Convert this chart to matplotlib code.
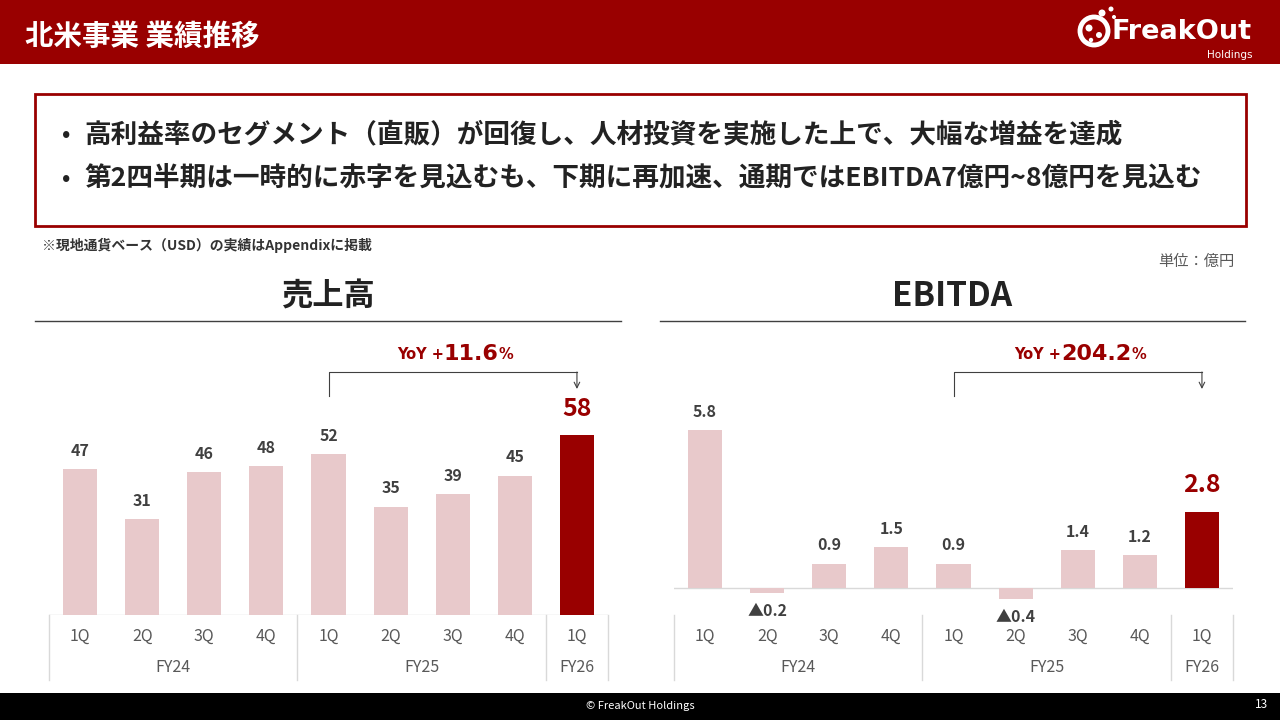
import matplotlib
matplotlib.use('Agg')
import matplotlib.pyplot as plt
from matplotlib.patches import Rectangle, Circle

plt.rcParams['font.family'] = ['Noto Sans CJK JP', 'DejaVu Sans']

# data (unit: 億円)
quarters = ['1Q', '2Q', '3Q', '4Q', '1Q', '2Q', '3Q', '4Q', '1Q']
fiscal_years = ['FY24', 'FY25', 'FY26']
fy_first = [0, 4, 8]
fy_last = [3, 7, 8]
sales = [47, 31, 46, 48, 52, 35, 39, 45, 58]
ebitda = [5.8, -0.2, 0.9, 1.5, 0.9, -0.4, 1.4, 1.2, 2.8]
sales_yoy = '11.6'
ebitda_yoy = '204.2'

title = '北米事業 業績推移'
bullets = ['高利益率のセグメント（直販）が回復し、人材投資を実施した上で、大幅な増益を達成',
           '第2四半期は一時的に赤字を見込むも、下期に再加速、通期ではEBITDA7億円~8億円を見込む']
note = '※現地通貨ベース（USD）の実績はAppendixに掲載'
unit = '単位：億円'

RED = '#990000'
PINK = '#E8C9CB'
DARK = '#404040'
GRAY = '#595959'
LINE = '#D9D9D9'

W, H = 1280, 720
fig = plt.figure(figsize=(12.8, 7.2), dpi=100)

# background axes in pixel coordinates
bg = fig.add_axes([0, 0, 1, 1])
bg.set_xlim(0, W)
bg.set_ylim(H, 0)
bg.axis('off')

# header
bg.add_patch(Rectangle((0, 0), W, 64, color=RED, lw=0))
bg.text(25, 37, title, color='white', fontsize=20.5, fontweight='bold', va='center')
# logo (rough)
bg.add_patch(Circle((1094, 31), 14, fill=False, ec='white', lw=3.5))
for cx, cy, r in [(1102, 13, 3.5), (1111, 9, 2.5), (1114, 17, 2), (1089, 28, 3.5), (1099, 35, 3), (1091, 40, 2.2)]:
    bg.add_patch(Circle((cx, cy), r, color='white', lw=0))
bg.text(1252, 32, 'FreakOut', color='white', fontsize=19.5, fontweight='bold',
        ha='right', va='center', family=['DejaVu Sans'])
bg.text(1252, 55, 'Holdings', color='white', fontsize=7.5, ha='right', va='center',
        family=['DejaVu Sans'])

# message box
bg.add_patch(Rectangle((35, 94), 1211, 132, fill=False, ec=RED, lw=2))
for i, b in enumerate(bullets):
    y = 135 + i * 43
    bg.text(62, y, '•', fontsize=16, fontweight='bold', color='#222222', va='center')
    bg.text(84, y, b, fontsize=19.2, fontweight='bold', color='#222222', va='center')

bg.text(42, 245, note, fontsize=10, fontweight='bold', color='#333333', va='center')
bg.text(1234, 261, unit, fontsize=11, color=GRAY, ha='right', va='center')

# chart headings
bg.text(328, 297, '売上高', fontsize=22.5, fontweight='bold', color='#222222', ha='center', va='center')
bg.plot([35, 621], [321, 321], color='#404040', lw=1)
bg.text(952, 297, 'EBITDA', fontsize=24, fontweight='bold', color='#222222', ha='center', va='center')
bg.plot([660, 1245], [321, 321], color='#404040', lw=1)

# footer
bg.add_patch(Rectangle((0, 693), W, 27, color='black', lw=0))
bg.text(640, 706, '© FreakOut Holdings', color='white', fontsize=8, ha='center', va='center')
bg.text(1262, 705, '13', color='white', fontsize=8.5, ha='center', va='center')


def px_axes(x0, y0, x1, y1):
    return fig.add_axes([x0 / W, 1 - y1 / H, (x1 - x0) / W, (y1 - y0) / H])


def draw_chart(ax, values, labels, yoy):
    x = list(range(len(values)))
    colors = [PINK] * (len(values) - 1) + [RED]
    ax.bar(x, values, width=0.55, color=colors, zorder=2)
    ax.axhline(0, color=LINE, lw=1, zorder=1)
    ax.set_xlim(-0.5, len(values) - 0.5)
    ax.axis('off')
    ax.patch.set_alpha(0)
    last = len(values) - 1
    for i, (v, s) in enumerate(zip(values, labels)):
        if i == last:
            ax.annotate(s, (i, v), xytext=(0, 19), textcoords='offset points',
                        ha='center', va='center', fontsize=18, fontweight='bold', color=RED)
        elif v < 0:
            ax.annotate(s, (i, v), xytext=(0, -13), textcoords='offset points',
                        ha='center', va='center', fontsize=11.5, fontweight='bold', color=DARK)
        else:
            ax.annotate(s, (i, v), xytext=(0, 13), textcoords='offset points',
                        ha='center', va='center', fontsize=11.5, fontweight='bold', color=DARK)
    tr = ax.get_xaxis_transform()
    for i, q in enumerate(quarters):
        ax.text(i, -21 / 275, q, transform=tr, ha='center', va='center', fontsize=11.5, color=GRAY)
    for fy, a, b in zip(fiscal_years, fy_first, fy_last):
        ax.text((a + b) / 2, -52 / 275, fy, transform=tr, ha='center', va='center', fontsize=11.5, color=GRAY)
    for sx in [-0.5, 3.5, 7.5, 8.5]:
        ax.plot([sx, sx], [0, -65 / 275], transform=tr, color=LINE, lw=1, clip_on=False)
    # YoY bracket
    ax.plot([4, 4, 8], [219 / 275, 243 / 275, 243 / 275], transform=tr, color=DARK, lw=0.8, clip_on=False)
    ax.annotate('', xy=(8, 226 / 275), xytext=(8, 243 / 275), xycoords=tr, textcoords=tr,
                arrowprops=dict(arrowstyle='->', color=DARK, lw=0.8, shrinkA=0, shrinkB=0))
    t = ax.text(6.3, 261 / 275, yoy, transform=tr, ha='center', va='center', fontsize=16,
                fontweight='bold', color=RED, family=['DejaVu Sans'])
    ax.annotate('YoY +', xy=(0, 0.12), xycoords=t, ha='right', va='bottom', fontsize=10.5,
                fontweight='bold', color=RED, family=['DejaVu Sans'])
    ax.annotate('%', xy=(1, 0.12), xycoords=t, ha='left', va='bottom', fontsize=10.5,
                fontweight='bold', color=RED, family=['DejaVu Sans'])


ax1 = px_axes(49, 340, 608, 615)
ax1.set_ylim(0, 275 / 3.1)
draw_chart(ax1, sales, [str(v) for v in sales], sales_yoy)

ax2 = px_axes(674, 340, 1233, 615)
ax2.set_ylim(-27 / 27.2, 248 / 27.2)
eb_labels = [f'{v:.1f}' if v >= 0 else f'▲{abs(v):.1f}' for v in ebitda]
draw_chart(ax2, ebitda, eb_labels, ebitda_yoy)

fig.savefig('out.png', dpi=100)
